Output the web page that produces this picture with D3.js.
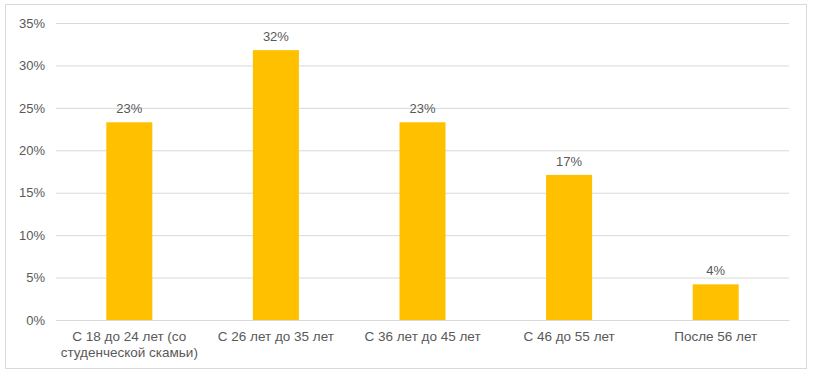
<!DOCTYPE html>
<html>
<head>
<meta charset="utf-8">
<script src="https://cdn.jsdelivr.net/npm/d3@7"></script>
<style>
  body { margin: 0; background: #fff; }
  text { font-family: "Liberation Sans", Arial, sans-serif; }
</style>
</head>
<body>
<div id="chart"></div>
<script>
// age groups and share of respondents
const categories = [
  'С 18 до 24 лет (со студенческой скамьи)',
  'С 26 лет до 35 лет',
  'С 36 лет до 45 лет',
  'С 46 до 55 лет',
  'После 56 лет'
];
const values = [0.233, 0.318, 0.233, 0.171, 0.042];
const valueLabels = ['23%', '32%', '23%', '17%', '4%'];
const yTicks = [0, 0.05, 0.10, 0.15, 0.20, 0.25, 0.30, 0.35];

const width = 813, height = 375;
const margin = { top: 23, right: 24, bottom: 55, left: 56 };

const svg = d3.select('#chart')
  .append('svg')
  .attr('width', width)
  .attr('height', height);

// outer frame
svg.append('rect')
  .attr('x', 5.5).attr('y', 4.5)
  .attr('width', 801).attr('height', 364)
  .attr('fill', '#fff')
  .attr('stroke', '#d9d9d9')
  .attr('stroke-width', 1);

const x = d3.scaleBand()
  .domain(categories)
  .range([margin.left, width - margin.right])
  .paddingInner(0.686)
  .paddingOuter(0.343);

const y = d3.scaleLinear()
  .domain([0, 0.35])
  .range([height - margin.bottom, margin.top]);

// grid lines + y labels
const yAxis = svg.append('g')
  .attr('transform', `translate(${margin.left},0)`)
  .call(d3.axisLeft(y)
    .tickValues(yTicks)
    .tickFormat(d3.format('.0%'))
    .tickSize(-(width - margin.left - margin.right))
    .tickPadding(11));
yAxis.select('.domain').remove();
yAxis.selectAll('.tick line')
  .attr('stroke', '#d9d9d9')
  .attr('stroke-width', 1);
yAxis.selectAll('.tick text')
  .attr('fill', '#595959')
  .attr('font-size', 13);

// bars
svg.append('g')
  .selectAll('rect')
  .data(values)
  .join('rect')
  .attr('x', (d, i) => x(categories[i]))
  .attr('y', d => y(d))
  .attr('width', x.bandwidth())
  .attr('height', d => y(0) - y(d))
  .attr('fill', '#ffc000');

// value labels
svg.append('g')
  .selectAll('text')
  .data(values)
  .join('text')
  .attr('x', (d, i) => x(categories[i]) + x.bandwidth() / 2)
  .attr('y', d => y(d) - 9)
  .attr('text-anchor', 'middle')
  .attr('fill', '#595959')
  .attr('font-size', 13)
  .text((d, i) => valueLabels[i]);

// x axis
const xAxis = svg.append('g')
  .attr('transform', `translate(0,${y(0)})`)
  .call(d3.axisBottom(x).tickSize(0).tickPadding(11));
xAxis.select('.domain')
  .attr('stroke', '#d9d9d9');
xAxis.selectAll('.tick text')
  .attr('fill', '#595959')
  .attr('font-size', 13.5)
  .each(function (d) {
    // split long label into two lines like the original
    const t = d3.select(this);
    if (d.length > 25) {
      t.text(null);
      t.append('tspan').attr('x', 0).attr('dy', '0.71em').text('С 18 до 24 лет (со');
      t.append('tspan').attr('x', 0).attr('dy', '1.2em').text('студенческой скамьи)');
      t.attr('dy', null);
    }
  });
</script>
</body>
</html>
